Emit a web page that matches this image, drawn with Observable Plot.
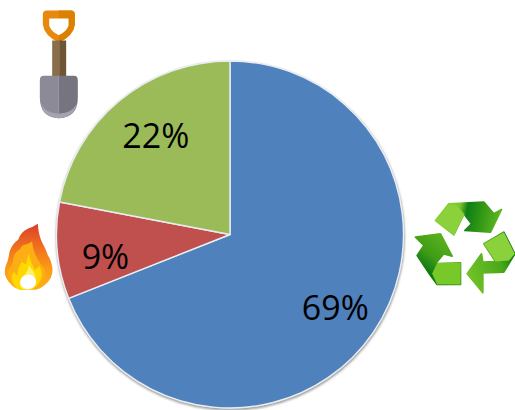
<!DOCTYPE html>
<html>
<head>
<meta charset="utf-8">
<script src="https://cdn.jsdelivr.net/npm/d3@7"></script>
<script src="https://cdn.jsdelivr.net/npm/@observablehq/plot@0.6"></script>
<style>html,body{margin:0;padding:0;background:#fff}svg{display:block}</style>
</head>
<body>
<div id="chart"></div>
<script>
const categories = ["Recycled", "Burned", "Landfilled"];
const shares = [69, 9, 22];
const labels = ["69%", "9%", "22%"];
const colors = ["#4F81BD", "#C0504D", "#9BBB59"];

const W = 515, H = 410;
const center = {x: 230, y: 234.5};
const radius = 173.5;
const labelNudge = [[0, 3], [1, 11], [6, 0]];

const arcs = d3.pie().sort(null).value(d => d.share)(
  categories.map((name, i) => ({name, share: shares[i], label: labels[i], color: colors[i]}))
);
const labelArc = d3.arc().innerRadius(radius * 0.73).outerRadius(radius * 0.73);

function svgUri(w, h, body) {
  return "data:image/svg+xml," + encodeURIComponent(
    `<svg xmlns="http://www.w3.org/2000/svg" width="${w}" height="${h}" viewBox="0 0 ${w * 3} ${h * 3}"><defs><filter id="s" x="-5%" y="-5%" width="110%" height="110%"><feGaussianBlur stdDeviation="1.4"/></filter></defs><g filter="url(#s)">${body}</g></svg>`);
}

const shovel = svgUri(130, 130, `
  <path d="M127 42q0-12 12-12h72q12 0 12 12v30q-4 34-48 54q-44-20-48-54z" fill="#E8890C"/>
  <path d="M175 30h36q12 0 12 12v30q-4 34-48 54z" fill="#DB8000"/>
  <path d="M146 54h58v22q-8 20-29 28q-21-8-29-28z" fill="#fff"/>
  <rect x="155" y="120" width="21" height="108" fill="#8A6D48"/>
  <rect x="176" y="120" width="21" height="108" fill="#6E5636"/>
  <path d="M130 226h45v127q-57-2-57-62v-52q0-13 12-13z" fill="#8C8A96"/>
  <path d="M175 226h45q12 0 12 13v52q0 60-57 62z" fill="#76747F"/>
  <path d="M122 310q12 28 53 30q41-2 53-30q-6 42-53 43q-47-1-53-43z" fill="#A5A3AE"/>`);

const flame = svgUri(130, 100, `
  <defs>
    <linearGradient id="f" x1="0" y1="0" x2="0" y2="1"><stop offset="0" stop-color="#D8402A"/><stop offset=".35" stop-color="#F0701E"/><stop offset=".7" stop-color="#FB9E14"/><stop offset="1" stop-color="#FBB016"/></linearGradient>
  </defs>
  <path d="M112 40q2 38 16 62q8 14 14 32q10 14 14 40q2 30-24 50q-14 12-32 14h-42q-26-8-40-34q-10-18-1-42q6-10 10-38q8-24 26-36q6-22 30-34q14-4 29-14z" fill="url(#f)"/>
  <path d="M95 92q2 32 20 60q6 10 10 14q14 18 8 30q-6 24-30 38h-48q-22-8-30-30q-6-18 4-34q8-8 10-30q6-18 20-24q4-14 18-14q8-2 18-10z" fill="#FDAE12"/>
  <path d="M85 128q4 26 18 50q10-6 12-14q14 22 6 42q-10 24-30 32h-32q-16-6-24-26q-4-16 6-30q4 12 10 14q0-26 14-42q6 8 12 6q2-16 8-32z" fill="#FFD800"/>
  <path d="M85 165q26 28 18 46q-6 24-25 26q-16 0-20-14q-2-14 12-26q10-10 15-32z" fill="#FFF06A"/>
  <ellipse cx="83" cy="214" rx="24" ry="22" fill="#fff"/>`);

const recycle = svgUri(120, 120, `
  <defs>
    <linearGradient id="a" x1="0" y1="0" x2="1" y2="0.1"><stop offset="0" stop-color="#8CD03A"/><stop offset=".38" stop-color="#7CC52C"/><stop offset=".5" stop-color="#0F7E12"/><stop offset="1" stop-color="#5CB51E"/></linearGradient>
    <linearGradient id="b" x1="0.9" y1="0" x2="0.2" y2="1"><stop offset="0" stop-color="#66BB22"/><stop offset=".55" stop-color="#3E9C16"/><stop offset=".8" stop-color="#0F7A10"/><stop offset="1" stop-color="#1C8612"/></linearGradient>
    <linearGradient id="c" x1="0" y1="0.8" x2="1" y2="0.4"><stop offset="0" stop-color="#74C428"/><stop offset=".7" stop-color="#4BA81B"/><stop offset="1" stop-color="#137E10"/></linearGradient>
  </defs>
  <path d="M120 105L160 55L265 50L295 85L318 72L285 140L208 135L228 115L205 85L175 148Z" fill="url(#a)" stroke="url(#a)" stroke-width="5" stroke-linejoin="round"/>
  <path d="M120 105L160 55L182 58L208 88L175 148Z" fill="#8AD13A"/>
  <path d="M60 155L135 145L170 212L145 205L120 235L195 232V297H125L105 270L65 210L85 180Z" fill="url(#b)" stroke="url(#b)" stroke-width="5" stroke-linejoin="round"/>
  <path d="M125 232H195V297H125L110 265Z" fill="#79C82C"/>
  <path d="M325 140L358 205L325 260L262 262V322L215 265L258 205L262 230L300 228L265 175Z" fill="url(#c)" stroke="url(#c)" stroke-width="5" stroke-linejoin="round"/>
  <path d="M325 140L358 205L340 225L300 228L265 175Z" fill="#8AD13A"/>`);

const iconSources = [shovel, flame, recycle];
const iconX = [65, 65, 455];
const iconY = [65, 260, 245];
const iconW = [130, 130, 120];
const iconH = [130, 100, 120];

function pieMark(index, scales, values, dimensions, context) {
  const cx = scales.x(center.x), cy = scales.y(center.y);
  const r = scales.x(radius) - scales.x(0);
  const g = d3.select(context.document.createElementNS("http://www.w3.org/2000/svg", "g"))
    .attr("transform", `translate(${cx},${cy})`);
  g.append("circle").attr("cx", 0.3).attr("cy", 1.5).attr("r", r + 1)
    .attr("fill", "#a0a0a0").style("filter", "blur(1.2px)");
  g.append("circle").attr("r", r + 0.5).attr("fill", "#e8e8e8");
  const arc = d3.arc().innerRadius(0).outerRadius(r);
  g.selectAll("path.slice").data(arcs).join("path").attr("class", "slice")
    .attr("d", arc).attr("fill", d => d.data.color)
    .attr("stroke", "#e9edf2").attr("stroke-width", 1.4).attr("stroke-linejoin", "round");
  return g.node();
}

const chart = Plot.plot({
  width: W, height: H, margin: 0,
  x: {axis: null, type: "linear", domain: [0, W], range: [0, W]},
  y: {axis: null, type: "linear", domain: [0, H], range: [0, H]},
  style: {background: "transparent"},
  marks: [
    pieMark,
    ...arcs.map((a, i) => {
      const [lx, ly] = labelArc.centroid(a);
      return Plot.text([a.data.label], {
        x: [center.x + lx], y: [center.y + ly], text: d => d,
        dx: labelNudge[i][0], dy: labelNudge[i][1],
        fontFamily: "Open Sans", fontSize: 34, fill: "#000"
      });
    }),
    Plot.image(iconSources.map((src, i) => ({src, x: iconX[i], y: iconY[i], w: iconW[i], h: iconH[i]})), {
      x: "x", y: "y", src: "src", width: "w", height: "h"
    })
  ]
});
document.getElementById("chart").appendChild(chart);
</script>
</body>
</html>
